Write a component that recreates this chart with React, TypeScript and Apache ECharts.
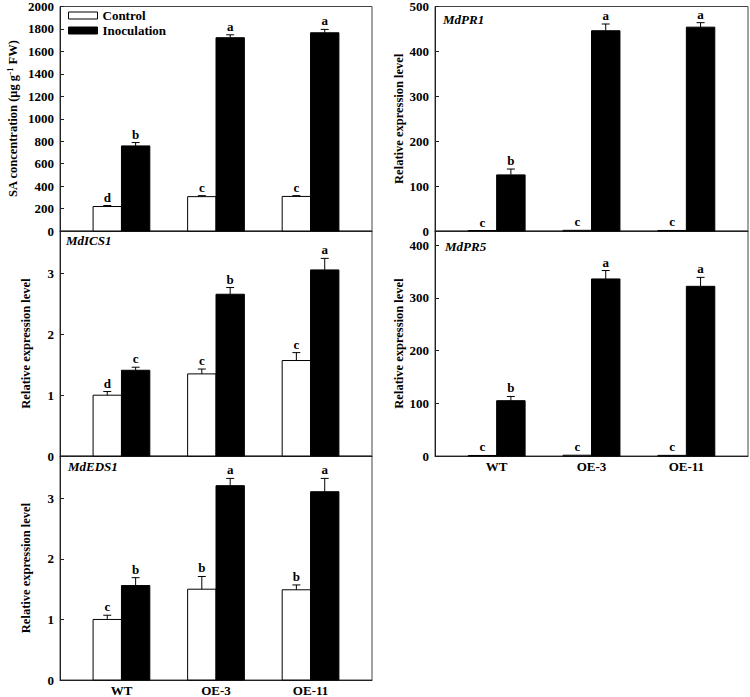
import React, { useEffect, useRef } from "react";
import * as echarts from "echarts";

// ---------- data ----------
const categories = ["WT", "OE-3", "OE-11"];
const categoryPos = [1, 2, 3];

// SA concentration
const saControl = [218, 306, 308];
const saControlErr = [9, 9, 7];
const saControlLetters = ["d", "c", "c"];
const saInoc = [758, 1722, 1766];
const saInocErr = [30, 26, 30];
const saInocLetters = ["b", "a", "a"];
const saTicks = [0, 200, 400, 600, 800, 1000, 1200, 1400, 1600, 1800, 2000];

// MdPR1
const pr1Control = [1, 1.5, 1.2];
const pr1ControlErr = [0, 0, 0];
const pr1ControlLetters = ["c", "c", "c"];
const pr1Inoc = [125, 446, 454];
const pr1InocErr = [13, 15, 10];
const pr1InocLetters = ["b", "a", "a"];
const pr1Ticks = [0, 100, 200, 300, 400, 500];

// MdICS1
const ics1Control = [1.0, 1.35, 1.57];
const ics1ControlErr = [0.06, 0.08, 0.13];
const ics1ControlLetters = ["d", "c", "c"];
const ics1Inoc = [1.41, 2.66, 3.06];
const ics1InocErr = [0.05, 0.11, 0.19];
const ics1InocLetters = ["c", "b", "a"];
const ics1Ticks = [0, 1, 2, 3];

// MdPR5
const pr5Control = [1, 1.5, 1.2];
const pr5ControlErr = [0, 0, 0];
const pr5ControlLetters = ["c", "c", "c"];
const pr5Inoc = [105, 336, 322];
const pr5InocErr = [8, 16, 17];
const pr5InocLetters = ["b", "a", "a"];
const pr5Ticks = [0, 100, 200, 300, 400];

// MdEDS1
const eds1Control = [1.0, 1.5, 1.49];
const eds1ControlErr = [0.07, 0.21, 0.08];
const eds1ControlLetters = ["c", "b", "b"];
const eds1Inoc = [1.56, 3.21, 3.11];
const eds1InocErr = [0.13, 0.12, 0.22];
const eds1InocLetters = ["b", "a", "a"];
const eds1Ticks = [0, 1, 2, 3];

const FONT = "Liberation Serif";

type Panel = {
  gene: string;
  control: number[];
  controlErr: number[];
  controlLetters: string[];
  inoc: number[];
  inocErr: number[];
  inocLetters: string[];
  ticks: number[];
  max: number;
  grid: { left: number; top: number; width: number; height: number };
  yName: string;
  nameGap: number;
  showX: boolean;
  geneLabel: { x: number; y: number };
};

const panels: Panel[] = [
  {
    gene: "",
    control: saControl, controlErr: saControlErr, controlLetters: saControlLetters,
    inoc: saInoc, inocErr: saInocErr, inocLetters: saInocLetters,
    ticks: saTicks, max: 2000,
    grid: { left: 60, top: 6, width: 312, height: 225 },
    yName: "{a|SA concentration (μg g}{s|-1}{a| FW)}", nameGap: 40, showX: false,
    geneLabel: { x: 0, y: 0 },
  },
  {
    gene: "MdPR1",
    control: pr1Control, controlErr: pr1ControlErr, controlLetters: pr1ControlLetters,
    inoc: pr1Inoc, inocErr: pr1InocErr, inocLetters: pr1InocLetters,
    ticks: pr1Ticks, max: 500,
    grid: { left: 435, top: 6, width: 313, height: 225 },
    yName: "Relative expression level", nameGap: 30, showX: false,
    geneLabel: { x: 443, y: 20 },
  },
  {
    gene: "MdICS1",
    control: ics1Control, controlErr: ics1ControlErr, controlLetters: ics1ControlLetters,
    inoc: ics1Inoc, inocErr: ics1InocErr, inocLetters: ics1InocLetters,
    ticks: ics1Ticks, max: 3.7,
    grid: { left: 60, top: 231, width: 312, height: 225 },
    yName: "Relative expression level", nameGap: 28, showX: false,
    geneLabel: { x: 66, y: 241 },
  },
  {
    gene: "MdPR5",
    control: pr5Control, controlErr: pr5ControlErr, controlLetters: pr5ControlLetters,
    inoc: pr5Inoc, inocErr: pr5InocErr, inocLetters: pr5InocLetters,
    ticks: pr5Ticks, max: 427,
    grid: { left: 435, top: 231, width: 313, height: 225 },
    yName: "Relative expression level", nameGap: 30, showX: true,
    geneLabel: { x: 445, y: 247 },
  },
  {
    gene: "MdEDS1",
    control: eds1Control, controlErr: eds1ControlErr, controlLetters: eds1ControlLetters,
    inoc: eds1Inoc, inocErr: eds1InocErr, inocLetters: eds1InocLetters,
    ticks: eds1Ticks, max: 3.7,
    grid: { left: 60, top: 456, width: 312, height: 227 },
    yName: "Relative expression level", nameGap: 28, showX: true,
    geneLabel: { x: 68, y: 467 },
  },
];

const BAR_W = 0.3;

function makeRender(errs: number[], letters: string[], offset: number, fill: string) {
  return (params: any, api: any) => {
    const i = params.dataIndex;
    const x = api.value(0);
    const v = api.value(1);
    const p0 = api.coord([x + offset, 0]);
    const p1 = api.coord([x + offset + BAR_W, v]);
    const left = p0[0];
    const right = p1[0];
    const base = p0[1];
    const top = p1[1];
    const cx = (left + right) / 2;
    const err = errs[i];
    const errTop = api.coord([x, v + err])[1];
    const children: any[] = [
      {
        type: "rect",
        shape: { x: left, y: top, width: right - left, height: Math.max(base - top, 0.5) },
        style: { fill, stroke: "#000", lineWidth: 1 },
      },
    ];
    if (err > 0) {
      children.push({
        type: "line",
        shape: { x1: cx, y1: top, x2: cx, y2: errTop },
        style: { stroke: "#000", lineWidth: 1 },
      });
      children.push({
        type: "line",
        shape: { x1: cx - 4, y1: errTop, x2: cx + 4, y2: errTop },
        style: { stroke: "#000", lineWidth: 1 },
      });
    }
    children.push({
      type: "text",
      x: cx,
      y: errTop - 2,
      style: {
        text: letters[i],
        align: "center",
        verticalAlign: "bottom",
        fontFamily: FONT,
        fontWeight: "bold",
        fontSize: 13,
        fill: "#000",
      },
    });
    return { type: "group", children };
  };
}

export default function App() {
  const ref = useRef<HTMLDivElement>(null);
  useEffect(() => {
    document.body.style.margin = "0";
    if (!ref.current) return;
    const chart = echarts.init(ref.current, undefined, { renderer: "svg" });

    const grids = panels.map((p) => ({
      left: p.grid.left,
      top: p.grid.top,
      width: p.grid.width,
      height: p.grid.height,
      show: true,
      borderColor: "#444",
      borderWidth: 1,
      backgroundColor: "transparent",
    }));

    const xAxes = panels.map((p, k) => ({
      type: "value",
      gridIndex: k,
      min: 0.35,
      max: 3.65,
      axisLine: { show: true, lineStyle: { color: "#222", width: 1 } },
      axisTick: { show: false },
      splitLine: { show: false },
      axisLabel: {
        show: p.showX,
        customValues: categoryPos,
        formatter: (v: number) => categories[Math.round(v) - 1] ?? "",
        margin: 4,
        fontFamily: FONT,
        fontWeight: "bold",
        fontSize: 13,
        color: "#000",
      },
    }));

    const yAxes = panels.map((p, k) => ({
      type: "value",
      gridIndex: k,
      min: 0,
      max: p.max,
      axisLine: { show: true, lineStyle: { color: "#222", width: 1 } },
      axisTick: { show: true, inside: true, length: 4, customValues: p.ticks, lineStyle: { color: "#222" } },
      splitLine: { show: false },
      axisLabel: {
        customValues: p.ticks,
        formatter: (v: number) => String(v),
        margin: 6,
        fontFamily: FONT,
        fontWeight: "bold",
        fontSize: 13,
        color: "#000",
      },
      name: p.yName,
      nameLocation: "middle",
      nameRotate: 90,
      nameGap: p.nameGap,
      nameTextStyle: {
        fontFamily: FONT,
        fontWeight: "bold",
        fontSize: 12.5,
        color: "#000",
        rich: {
          a: { fontFamily: FONT, fontWeight: "bold", fontSize: 12.5, color: "#000" },
          s: { fontFamily: FONT, fontWeight: "bold", fontSize: 8.5, color: "#000", verticalAlign: "top", padding: [0, 0, 6, 0] },
        },
      },
    }));

    const series: any[] = [];
    panels.forEach((p, k) => {
      series.push({
        type: "custom",
        name: "Control",
        xAxisIndex: k,
        yAxisIndex: k,
        itemStyle: { color: "#fff", borderColor: "#000", borderWidth: 1 },
        renderItem: makeRender(p.controlErr, p.controlLetters, -BAR_W, "#fff"),
        encode: { x: 0, y: 1 },
        data: categoryPos.map((c, i) => [c, p.control[i]]),
      });
      series.push({
        type: "custom",
        name: "Inoculation",
        xAxisIndex: k,
        yAxisIndex: k,
        itemStyle: { color: "#000", borderColor: "#000", borderWidth: 1 },
        renderItem: makeRender(p.inocErr, p.inocLetters, 0, "#000"),
        encode: { x: 0, y: 1 },
        data: categoryPos.map((c, i) => [c, p.inoc[i]]),
      });
    });

    const graphics = panels
      .filter((p) => p.gene)
      .map((p) => ({
        type: "text",
        left: p.geneLabel.x,
        top: p.geneLabel.y - 7,
        style: {
          text: p.gene,
          fontFamily: FONT,
          fontWeight: "bold",
          fontStyle: "italic",
          fontSize: 13,
          fill: "#000",
        },
      }));

    chart.setOption({
      animation: false,
      backgroundColor: "#fff",
      textStyle: { fontFamily: FONT },
      grid: grids,
      xAxis: xAxes,
      yAxis: yAxes,
      legend: {
        show: true,
        orient: "vertical",
        left: 68,
        top: 5,
        padding: [4, 5, 4, 0],
        icon: "rect",
        itemWidth: 29,
        itemHeight: 7,
        itemGap: 2,
        selectedMode: false,
        textStyle: { fontFamily: FONT, fontWeight: "bold", fontSize: 13, color: "#000" },
        data: [
          { name: "Control", itemStyle: { color: "#fff", borderColor: "#000", borderWidth: 1 } },
          { name: "Inoculation", itemStyle: { color: "#000", borderColor: "#000", borderWidth: 1 } },
        ],
      },
      graphic: graphics,
      series,
    });
    return () => chart.dispose();
  }, []);
  return <div ref={ref} style={{ width: 750, height: 697 }} />;
}
